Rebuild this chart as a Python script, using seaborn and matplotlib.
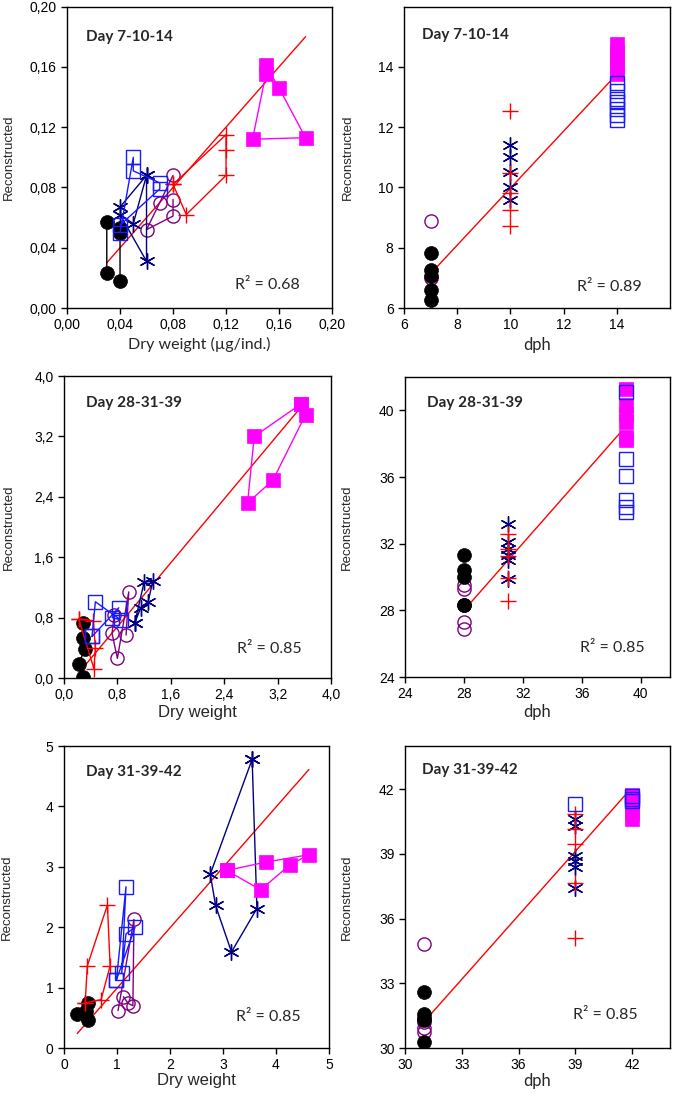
import matplotlib
matplotlib.use('Agg')
import matplotlib.pyplot as plt
import seaborn as sns

sns.set_style('ticks')
plt.rcParams['font.family'] = ['Liberation Sans', 'DejaVu Sans']

# ---- panel 1: Day 7-10-14, reconstructed vs dry weight
p1_black = [(0.03, 0.023), (0.03, 0.057), (0.04, 0.053), (0.04, 0.050), (0.04, 0.018)]
p1_purple = [(0.08, 0.088), (0.07, 0.070), (0.06, 0.052), (0.08, 0.061), (0.08, 0.072)]
p1_red = [(0.08, 0.082), (0.12, 0.115), (0.12, 0.105), (0.12, 0.088), (0.09, 0.062), (0.08, 0.082)]
p1_navy = [(0.04, 0.067), (0.06, 0.088), (0.06, 0.031), (0.04, 0.062), (0.05, 0.056), (0.06, 0.088)]
p1_blue = [(0.04, 0.050), (0.05, 0.100), (0.05, 0.091), (0.07, 0.083), (0.07, 0.079), (0.04, 0.055)]
p1_magenta = [(0.15, 0.161), (0.16, 0.146), (0.18, 0.113), (0.14, 0.112), (0.15, 0.155)]
p1_fit = [(0.03, 0.03), (0.18, 0.18)]

# ---- panel 2: Day 7-10-14, reconstructed vs dph
p2_black = [(7, 7.83), (7, 7.27), (7, 7.05), (7, 6.61), (7, 6.28)]
p2_purple = [(7, 8.88), (7, 7.0)]
p2_red = [(10, 12.55), (10, 10.48), (10, 9.82), (10, 9.24), (10, 8.71)]
p2_navy = [(10, 11.42), (10, 11.01), (10, 10.51), (10, 10.0), (10, 9.6)]
p2_blue = [(14, 13.45), (14, 13.2), (14, 12.95), (14, 12.85), (14, 12.6), (14, 12.4), (14, 12.25)]
p2_magenta = [(14, 14.75), (14, 14.5), (14, 14.25), (14, 14.0), (14, 13.75)]
p2_fit = [(7.0, 7.14), (13.95, 13.71)]

# ---- panel 3: Day 28-31-39, reconstructed vs dry weight
p3_black = [(0.29, 0.73), (0.29, 0.53), (0.31, 0.38), (0.22, 0.18), (0.28, 0.01)]
p3_purple = [(0.75, 0.83), (0.72, 0.59), (0.80, 0.26), (0.97, 1.14), (0.93, 0.57)]
p3_red = [(0.22, 0.78), (0.45, 0.12), (0.47, 0.40), (0.44, 0.76), (0.22, 0.78)]
p3_navy = [(1.06, 0.73), (1.15, 0.93), (1.26, 1.01), (1.33, 1.28), (1.20, 1.27), (1.06, 0.73)]
p3_blue = [(0.42, 0.55), (0.47, 1.01), (0.85, 0.77), (0.72, 0.80), (0.82, 0.93), (0.42, 0.55)]
p3_magenta = [(3.55, 3.63), (2.85, 3.20), (2.75, 2.32), (3.13, 2.62), (3.62, 3.49), (3.55, 3.63)]
p3_fit = [(0.27, 0.12), (3.58, 3.62)]

# ---- panel 4: Day 28-31-39, reconstructed vs dph
p4_black = [(28, 31.34), (28, 30.4), (28, 30.0), (28, 28.34), (28, 28.3)]
p4_purple = [(28, 29.5), (28, 29.3), (28, 27.3), (28, 26.9)]
p4_red = [(31, 32.6), (31, 31.66), (31, 31.24), (31, 29.94), (31, 28.56)]
p4_navy = [(31, 33.2), (31, 32.1), (31, 31.7), (31, 31.3), (31, 31.0), (31, 29.9)]
p4_blue = [(39, 41.1), (39, 37.1), (39, 36.05), (39, 34.65), (39, 34.2), (39, 33.9)]
p4_magenta = [(39, 41.26), (39, 40.3), (39, 39.8), (39, 39.3), (39, 38.4), (39, 38.2)]
p4_fit = [(28.4, 28.4), (38.7, 38.74)]

# ---- panel 5: Day 31-39-42, reconstructed vs dry weight
p5_black = [(0.24, 0.56), (0.42, 0.62), (0.45, 0.74), (0.45, 0.47)]
p5_purple = [(1.02, 0.62), (1.32, 2.13), (1.30, 0.70), (1.21, 0.74), (1.12, 0.85)]
p5_red = [(0.40, 0.75), (0.44, 1.36), (0.82, 2.37), (0.87, 1.36), (0.70, 0.80), (0.40, 0.75)]
p5_navy = [(3.55, 4.78), (2.76, 2.88), (2.86, 2.36), (3.16, 1.59), (3.64, 2.31), (3.55, 4.78)]
p5_blue = [(0.99, 1.13), (1.17, 2.67), (1.09, 1.25), (1.17, 1.89), (1.34, 2.00), (0.99, 1.13)]
p5_magenta = [(3.07, 2.94), (3.82, 3.08), (4.62, 3.20), (4.26, 3.03), (3.71, 2.62), (3.07, 2.94)]
p5_fit = [(0.25, 0.24), (4.62, 4.61)]

# ---- panel 6: Day 31-39-42, reconstructed vs dph
p6_black = [(31, 32.6), (31, 31.57), (31, 31.4), (31, 31.3), (31, 30.3)]
p6_purple = [(31, 34.83), (31, 31.2), (31, 30.95), (31, 30.75)]
p6_red = [(39, 40.85), (39, 40.14), (39, 39.44), (39, 37.66), (39, 35.09)]
p6_navy = [(39, 40.6), (39, 40.3), (39, 38.9), (39, 38.66), (39, 38.4), (39, 37.42)]
p6_blue = [(39, 41.3), (42, 41.7), (42, 41.55), (42, 41.45)]
p6_magenta = [(42, 41.75), (42, 41.5), (42, 41.2), (42, 40.9), (42, 40.6)]
p6_fit = [(31.0, 31.21), (41.6, 41.69)]

titles = ['Day 7-10-14', 'Day 7-10-14', 'Day 28-31-39', 'Day 28-31-39', 'Day 31-39-42', 'Day 31-39-42']
r2_values = ['0.68', '0.89', '0.85', '0.85', '0.85', '0.85']
x_labels = ['Dry weight (\u00b5g/ind.)', 'dph', 'Dry weight', 'dph', 'Dry weight', 'dph']

p1_ticks = [0, 0.04, 0.08, 0.12, 0.16, 0.20]
p1_ticklabels = ['0,00', '0,04', '0,08', '0,12', '0,16', '0,20']
p2_ticks = [6, 8, 10, 12, 14]
p3_ticks = [0, 0.8, 1.6, 2.4, 3.2, 4.0]
p3_ticklabels = ['0,0', '0,8', '1,6', '2,4', '3,2', '4,0']
p4_ticks = [24, 28, 32, 36, 40]
p5_ticks = [0, 1, 2, 3, 4, 5]
p6_ticks = [30, 33, 36, 39, 42]

styles = {
    'purple': dict(color='#800080', marker='o', mfc='none', mec='#800080', ms=9.5, mew=1.0),
    'black': dict(color='black', marker='o', mfc='black', mec='black', ms=10, mew=0.5),
    'navy': dict(color='#000080', marker=(6, 2, 0), mec='#000080', ms=11.5, mew=1.0),
    'red': dict(color='red', marker='+', mec='red', ms=11.5, mew=1.0),
    'magenta': dict(color='#ff00ff', marker='s', mfc='#ff00ff', mec='#ff00ff', ms=10, mew=0.5),
    'blue': dict(color='#1a1aff', marker='s', mfc='none', mec='#1a1aff', ms=10, mew=1.0),
}


def draw_group(ax, pts, name, joined):
    xs = [p[0] for p in pts]
    ys = [p[1] for p in pts]
    sns.lineplot(x=xs, y=ys, ax=ax, sort=False, estimator=None,
                 linestyle='-' if joined else '', lw=1.0, zorder=3, **styles[name])


def make_panel(rect, groups, fit, joined, lim, ticks, ticklabels, title, r2, xlabel,
               xfont, title_pos, r2_pos, ylab_x, xlab_y):
    ax = fig.add_axes(rect)
    fx = [p[0] for p in fit]
    fy = [p[1] for p in fit]
    sns.lineplot(x=fx, y=fy, ax=ax, color='red', lw=1.0, zorder=2)
    for name, pts in groups:
        draw_group(ax, pts, name, joined)
    ax.set_xlim(lim)
    ax.set_ylim(lim)
    ax.set_xticks(ticks)
    ax.set_yticks(ticks)
    if ticklabels is not None:
        ax.set_xticklabels(ticklabels)
        ax.set_yticklabels(ticklabels)
    ax.tick_params(direction='out', length=4, width=1, labelsize=10, colors='black',
                   top=False, right=False)
    for s in ax.spines.values():
        s.set_visible(True)
        s.set_linewidth(1.0)
        s.set_color('black')
    ax.set_ylabel('Reconstructed', fontsize=9.5)
    ax.yaxis.set_label_coords(ylab_x, 0.5)
    ax.set_xlabel(xlabel, fontsize=xfont[0], family=xfont[1])
    ax.xaxis.set_label_coords(0.5, xlab_y)
    ax.text(title_pos[0], title_pos[1], title, transform=ax.transAxes, ha='left', va='center',
            fontsize=11, fontweight='bold', family=['Lato', 'DejaVu Sans'])
    ax.text(r2_pos[0], r2_pos[1], 'R\u00b2 = ' + r2, transform=ax.transAxes, ha='left', va='center',
            fontsize=11.5, family=['Lato', 'DejaVu Sans'])
    return ax


fig = plt.figure(figsize=(6.75, 10.95), dpi=100)

order = ['purple', 'black', 'navy', 'red', 'magenta', 'blue']

make_panel([0.0993, 0.7187, 0.3926, 0.2753],
           list(zip(order, [p1_purple, p1_black, p1_navy, p1_red, p1_magenta, p1_blue])),
           p1_fit, True, (0, 0.20), p1_ticks, p1_ticklabels, titles[0], r2_values[0], x_labels[0],
           (11.5, ['Lato', 'DejaVu Sans']), (0.072, 0.90), (0.634, 0.076), -0.196, -0.096)

make_panel([0.5985, 0.7187, 0.3941, 0.2753],
           list(zip(order, [p2_purple, p2_black, p2_navy, p2_red, p2_magenta, p2_blue])),
           p2_fit, False, (6, 16), p2_ticks, None, titles[1], r2_values[1], x_labels[1],
           (12, ['Lato', 'DejaVu Sans']), (0.068, 0.907), (0.65, 0.07), -0.19, -0.096)

make_panel([0.0948, 0.3808, 0.3956, 0.2758],
           list(zip(order, [p3_purple, p3_black, p3_navy, p3_red, p3_magenta, p3_blue])),
           p3_fit, True, (0, 4.0), p3_ticks, p3_ticklabels, titles[2], r2_values[2], x_labels[2],
           (12, ['Liberation Sans', 'DejaVu Sans']), (0.082, 0.91), (0.648, 0.096), -0.184, -0.088)

make_panel([0.6000, 0.3817, 0.3926, 0.2740],
           list(zip(order, [p4_purple, p4_black, p4_navy, p4_red, p4_magenta, p4_blue])),
           p4_fit, False, (24, 42), p4_ticks, None, titles[3], r2_values[3], x_labels[3],
           (12, ['Lato', 'DejaVu Sans']), (0.083, 0.913), (0.66, 0.097), -0.196, -0.09)

make_panel([0.0948, 0.0429, 0.3926, 0.2758],
           list(zip(order, [p5_purple, p5_black, p5_navy, p5_red, p5_magenta, p5_blue])),
           p5_fit, True, (0, 5), p5_ticks, None, titles[4], r2_values[4], x_labels[4],
           (12, ['Liberation Sans', 'DejaVu Sans']), (0.083, 0.914), (0.65, 0.103), -0.192, -0.083)

make_panel([0.6000, 0.0429, 0.3926, 0.2758],
           list(zip(order, [p6_purple, p6_black, p6_navy, p6_red, p6_magenta, p6_blue])),
           p6_fit, False, (30, 44), p6_ticks, None, titles[5], r2_values[5], x_labels[5],
           (12, ['Lato', 'DejaVu Sans']), (0.064, 0.92), (0.634, 0.11), -0.196, -0.083)

fig.savefig('out.png', dpi=100)
